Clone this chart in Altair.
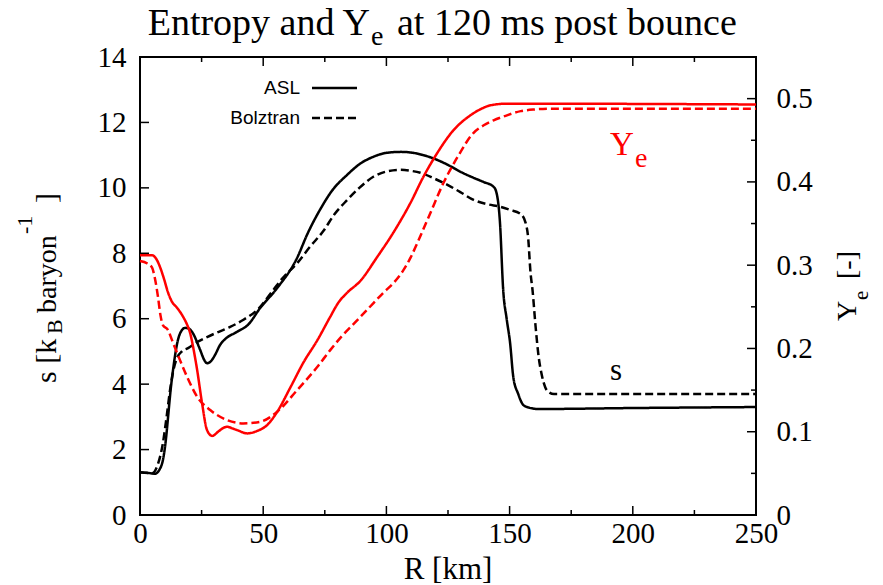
import altair as alt
import pandas as pd

# ---------------- data ----------------
asl_s_r = [0, 4, 6, 8, 9.3, 10.5, 11.4, 12.4, 13.4, 15.4, 17, 18.3, 19.8, 21.1, 24.4, 26, 27.2, 28.5,
           30.5, 32.5, 34.6, 39.4, 43.9, 48.8, 55.6, 63.7, 68, 73.2, 78, 84.1, 89, 94.7, 100, 106,
           110, 115, 119.1, 125, 130.1, 135, 139.4, 143.4, 144.5, 146.1, 147.4, 148.8, 150.2, 151.5,
           153.5, 155.6, 158, 161.7, 200, 250]
asl_s = [1.30, 1.28, 1.26, 1.40, 1.68, 2.3, 3.0, 3.8, 4.43, 5.35, 5.65, 5.72, 5.70, 5.60, 5.05, 4.75,
         4.64, 4.68, 4.90, 5.20, 5.38, 5.60, 5.82, 6.33, 6.93, 7.85, 8.60, 9.35, 9.92, 10.40, 10.72,
         10.95, 11.07, 11.10, 11.08, 11.00, 10.90, 10.70, 10.49, 10.32, 10.18, 10.04, 9.90, 8.93,
         6.88, 6.00, 5.26, 4.22, 3.70, 3.36, 3.28, 3.24, 3.27, 3.30]

bol_s_r = [0, 5, 7, 9.3, 10.8, 12.2, 13.5, 15, 17, 19.5, 23, 27.2, 32, 36.6, 42, 47.6, 54.1, 58, 63.8,
           69, 74.4, 79, 84.1, 89, 94.7, 100, 105.7, 110, 113.8, 119, 124.8, 130, 135.4, 141, 146.3,
           150, 154.5, 156.5, 157.5, 158.5, 159.3, 160.5, 161.8, 163, 164.5, 166, 168, 250]
bol_s = [1.31, 1.28, 1.50, 2.20, 3.00, 3.82, 4.40, 4.80, 5.00, 5.10, 5.28, 5.44, 5.60, 5.75, 5.97,
         6.27, 6.88, 7.25, 7.70, 8.20, 8.68, 9.20, 9.63, 10.00, 10.34, 10.50, 10.55, 10.52, 10.46,
         10.30, 10.09, 9.87, 9.63, 9.50, 9.42, 9.33, 9.20, 8.93, 8.50, 7.40, 6.88, 5.80, 4.83, 4.30,
         3.90, 3.75, 3.70, 3.70]

asl_ye_r = [0, 4.9, 6.5, 8.1, 9.8, 11.4, 13, 15, 17.5, 19.2, 20.3, 21.8, 23.2, 25.2, 27.2, 29.3, 31.7,
            33.5, 35.4, 37.5, 39.4, 43.5, 47.6, 51.6, 55.7, 61, 66.3, 72, 77.2, 80.5, 84.1, 89.4,
            96.3, 102.8, 109.8, 115, 120.7, 127.2, 134.1, 138, 142.3, 149.2, 250]
asl_ye = [0.312, 0.312, 0.308, 0.298, 0.283, 0.267, 0.256, 0.249, 0.238, 0.228, 0.219, 0.198, 0.174,
          0.134, 0.102, 0.095, 0.100, 0.104, 0.106, 0.104, 0.102, 0.098, 0.101, 0.108, 0.124, 0.153,
          0.183, 0.210, 0.238, 0.255, 0.267, 0.281, 0.310, 0.339, 0.375, 0.406, 0.435, 0.462, 0.480,
          0.487, 0.492, 0.494, 0.493]

bol_ye_r = [0, 3, 4.9, 6, 7.3, 8.3, 9.3, 11.4, 13, 15, 19.1, 23.2, 28.5, 35.4, 41.9, 48.8, 55.7, 63.8,
            72, 77.2, 82, 88.2, 93, 98.8, 103, 106.9, 109.8, 112.6, 117.9, 123.2, 128.9, 135.4, 139.5,
            143.5, 148, 154.5, 160, 167.9, 250]
bol_ye = [0.305, 0.302, 0.297, 0.285, 0.262, 0.240, 0.228, 0.222, 0.210, 0.195, 0.166, 0.142, 0.126,
          0.114, 0.110, 0.112, 0.124, 0.150, 0.178, 0.198, 0.215, 0.234, 0.249, 0.267, 0.279, 0.294,
          0.309, 0.327, 0.363, 0.399, 0.430, 0.459, 0.468, 0.474, 0.479, 0.485, 0.487, 0.488, 0.488]

models = ["ASL", "Bolztran"]
x_major = [0, 50, 100, 150, 200, 250]
x_minor = [25, 75, 125, 175, 225]
s_major = [0, 2, 4, 6, 8, 10, 12, 14]
ye_major = [0, 0.1, 0.2, 0.3, 0.4, 0.5]
ye_minor = [0.05, 0.15, 0.25, 0.35, 0.45]

# ---------------- tables ----------------
s_df = pd.concat([
    pd.DataFrame({"r": asl_s_r, "s": asl_s, "model": models[0]}),
    pd.DataFrame({"r": bol_s_r, "s": bol_s, "model": models[1]}),
])
ye_df = pd.concat([
    pd.DataFrame({"r": asl_ye_r, "ye": asl_ye, "model": models[0]}),
    pd.DataFrame({"r": bol_ye_r, "ye": bol_ye, "model": models[1]}),
])

W, H = 616, 458
SERIF = "Liberation Serif"
SANS = "Liberation Sans"
LBL = dict(labelFont=SERIF, labelFontSize=29, labelColor="black", ticks=False, tickSize=0,
           domain=False, grid=False, title=None, labelOverlap=False, labelFlush=False)

xscale = alt.Scale(domain=[0, 250], nice=False, zero=False)
sscale = alt.Scale(domain=[0, 14], nice=False, zero=False)
yescale = alt.Scale(domain=[0, 0.55], nice=False, zero=False)
dash = alt.StrokeDash("model:N", scale=alt.Scale(domain=models, range=[[1, 0], [8, 4]]), legend=None)

x_axis = alt.Axis(values=x_major, labelPadding=4, format="d", **LBL)

s_lines = alt.Chart(s_df).mark_line(color="black", strokeWidth=2.5, interpolate="monotone").encode(
    x=alt.X("r:Q", scale=xscale, axis=x_axis),
    y=alt.Y("s:Q", scale=sscale,
            axis=alt.Axis(orient="left", values=s_major, labelPadding=14, format="d", **LBL)),
    strokeDash=dash,
    detail="model:N",
)

ye_lines = alt.Chart(ye_df).mark_line(color="#ff0000", strokeWidth=2.5, interpolate="monotone").encode(
    x=alt.X("r:Q", scale=xscale, axis=x_axis),
    y=alt.Y("ye:Q", scale=yescale,
            axis=alt.Axis(orient="right", values=ye_major, labelPadding=20,
                          labelExpr="datum.value == 0 ? '0' : format(datum.value, '.1f')", **LBL)),
    strokeDash=dash,
    detail="model:N",
)


def xticks(vals, length, top):
    y0, y1 = (0, length) if top else (H, H - length)
    return alt.Chart(pd.DataFrame({"v": vals})).mark_rule(color="black", strokeWidth=1.5).encode(
        x=alt.X("v:Q", scale=xscale, axis=x_axis), y=alt.value(y0), y2=alt.value(y1))


def yticks(vals, scale, length, right):
    x0, x1 = (W, W - length) if right else (0, length)
    return alt.Chart(pd.DataFrame({"v": vals})).mark_rule(color="black", strokeWidth=1.5).encode(
        y=alt.Y("v:Q", scale=scale, axis=None), x=alt.value(x0), x2=alt.value(x1))


def txt(text, x, y, size, color="black", font=SERIF, align="left", angle=0, baseline="alphabetic"):
    kw = dict(align=align, baseline=baseline, font=font, fontSize=size, color=color)
    if angle:
        kw["angle"] = angle
    return alt.Chart(pd.DataFrame({"t": [text]})).mark_text(**kw).encode(
        x=alt.value(x), y=alt.value(y), text="t:N")


def legend_line(y, dashed):
    kw = dict(color="black", strokeWidth=2.5)
    if dashed:
        kw["strokeDash"] = [8, 4]
    return alt.Chart(pd.DataFrame({"m": [y]})).mark_rule(**kw).encode(
        x=alt.value(172), x2=alt.value(217), y=alt.value(y))


layers = [
    s_lines, ye_lines,
    xticks(x_major, 9, False), xticks(x_minor, 5, False),
    xticks(x_major, 9, True), xticks(x_minor, 5, True),
    yticks(s_major, sscale, 9, False),
    yticks(ye_major, yescale, 9, True), yticks(ye_minor, yescale, 5, True),
    # title
    txt("Entropy and Y", 230, -22, 38, align="right"),
    txt("e", 231, -12, 28),
    txt("at 120 ms post bounce", 257, -22, 38),
    # x title
    txt("R [km]", W / 2, 522, 31, align="center"),
    # left y title (rotated)
    txt("s [k", -84, 326, 30, angle=270),
    txt("B", -78, 277, 22, angle=270),
    txt("baryon", -84, 256, 28, angle=270),
    txt("-1", -108, 177, 22, angle=270),
    txt("]", -84, 146, 30, angle=270),
    # right y title (rotated)
    txt("Y", 716, 264, 28, angle=270),
    txt("e", 728, 243, 21, angle=270),
    txt("[-]", 716, 222, 28, angle=270),
    # in-plot labels
    txt("Y", 470, 98, 33, color="#ff0000"),
    txt("e", 495, 110, 28, color="#ff0000"),
    txt("s", 470, 323, 31),
    # legend
    txt("ASL", 160, 31, 19, font=SANS, align="right", baseline="middle"),
    txt("Bolztran", 160, 61, 19, font=SANS, align="right", baseline="middle"),
    legend_line(31, False),
    legend_line(61, True),
]

chart = alt.layer(*layers).resolve_scale(y="independent").properties(
    width=W, height=H,
    padding={"left": 140, "top": 57, "right": 127, "bottom": 70},
    autosize=alt.AutoSizeParams(type="none"),
    background="white",
).configure_view(
    stroke="black", strokeWidth=2
)

chart.save("out.html", embed_options={"renderer": "svg", "actions": False})
